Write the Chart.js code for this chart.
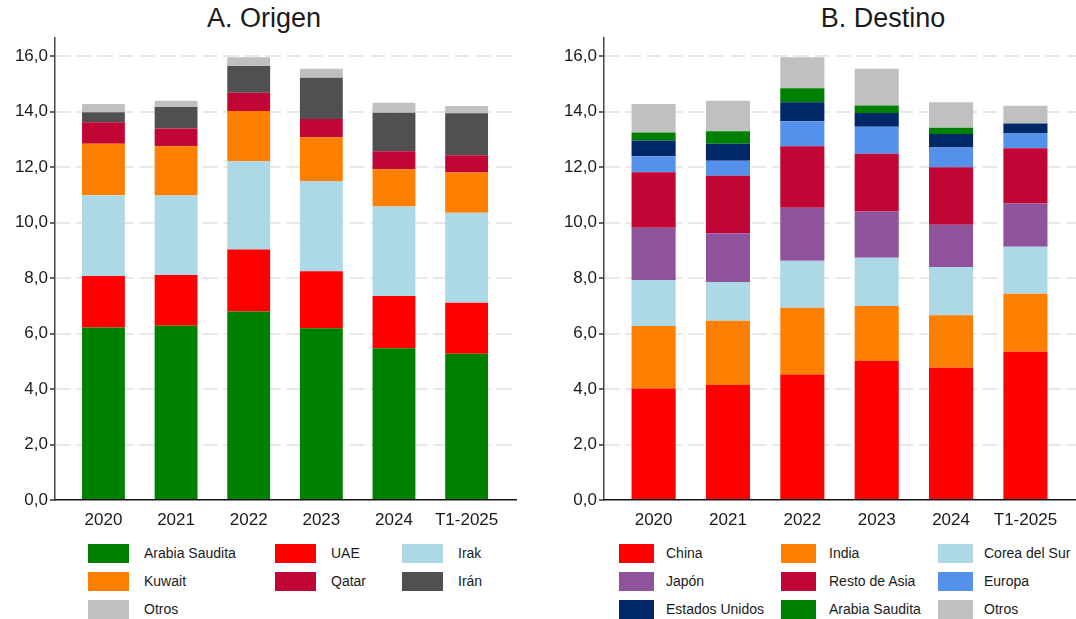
<!DOCTYPE html>
<html>
<head>
<meta charset="utf-8">
<script src="https://cdn.jsdelivr.net/npm/chart.js@4.4.1/dist/chart.umd.min.js"></script>
<style>
  html, body { margin: 0; padding: 0; background: #fff; width: 1076px; height: 619px; overflow: hidden; }
  body { position: relative; font-family: "Liberation Sans", Arial, sans-serif; color: #1a1a1a; }
  .panel { position: absolute; top: 0; width: 538px; height: 619px; }
  .panel canvas { position: absolute; left: 0; top: 0; }
  .title { position: absolute; top: 3px; font-size: 27px; white-space: nowrap; transform: translateX(-50%); }
  .lg-box { position: absolute; height: 19px; }
  .lg-txt { position: absolute; font-size: 14px; line-height: 19px; white-space: nowrap; }
</style>
</head>
<body>
<div class="panel" id="pL" style="left:0">
  <div class="title" style="left:264px">A. Origen</div>
  <canvas id="cL" width="538" height="540"></canvas>
</div>
<div class="panel" id="pR" style="left:538px">
  <div class="title" style="left:345px">B. Destino</div>
  <canvas id="cR" width="538" height="540"></canvas>
</div>
<script>
// ---- Data ----
const categories = ['2020', '2021', '2022', '2023', '2024', 'T1-2025'];

// A. Origen
const origArabiaSaudita = [6.22, 6.28, 6.79, 6.19, 5.47, 5.27];
const origUAE           = [1.85, 1.83, 2.24, 2.05, 1.88, 1.84];
const origIrak          = [2.91, 2.86, 3.19, 3.26, 3.23, 3.24];
const origKuwait        = [1.86, 1.78, 1.80, 1.57, 1.34, 1.45];
const origQatar         = [0.77, 0.64, 0.66, 0.66, 0.65, 0.62];
const origIran          = [0.36, 0.77, 0.96, 1.49, 1.39, 1.52];
const origOtros         = [0.30, 0.23, 0.32, 0.32, 0.36, 0.26];

// B. Destino
const destChina         = [4.02, 4.14, 4.52, 5.01, 4.77, 5.34];
const destIndia         = [2.25, 2.32, 2.41, 1.98, 1.89, 2.09];
const destCorea         = [1.66, 1.40, 1.69, 1.74, 1.73, 1.70];
const destJapon         = [1.88, 1.75, 1.91, 1.67, 1.53, 1.56];
const destRestoAsia     = [2.00, 2.08, 2.22, 2.08, 2.07, 1.99];
const destEuropa        = [0.58, 0.54, 0.90, 0.97, 0.71, 0.53];
const destEEUU          = [0.57, 0.61, 0.68, 0.50, 0.49, 0.36];
const destArabiaSaudita = [0.28, 0.45, 0.51, 0.27, 0.23, 0.00];
const destOtros         = [1.03, 1.10, 1.12, 1.32, 0.91, 0.64];

const yTickValues = [0, 2, 4, 6, 8, 10, 12, 14, 16];

// ---- Helpers ----
const FONT = '"Liberation Sans", Arial, sans-serif';
function toPoints(arr) { return arr.map((v, i) => ({ x: i, y: v })); }
function ds(label, arr, color) {
  return { label, data: toPoints(arr), backgroundColor: color, borderWidth: 0 };
}

function makeChart(canvasId, datasets, yAxisWidth, catPct, padRight) {
  return new Chart(document.getElementById(canvasId), {
    type: 'bar',
    data: { datasets },
    options: {
      responsive: false,
      animation: false,
      layout: { padding: { top: 38, right: padRight, left: 0, bottom: 0 } },
      datasets: { bar: { barPercentage: 1, categoryPercentage: catPct } },
      plugins: { legend: { display: false }, tooltip: { enabled: false }, title: { display: false } },
      scales: {
        x: {
          type: 'linear',
          stacked: true,
          offset: false,
          min: -0.667,
          max: 5.68,
          afterBuildTicks: (s) => { s.ticks = categories.map((c, i) => ({ value: i })); },
          afterFit: (s) => { s.height = 40; },
          ticks: {
            autoSkip: false, maxRotation: 0, padding: 10,
            font: { family: FONT, size: 17 }, color: '#1a1a1a',
            callback: (v) => categories[v]
          },
          grid: { display: false, drawTicks: false },
          border: { display: true, color: '#111', width: 1.5 }
        },
        y: {
          stacked: true,
          min: 0,
          max: 16.65,
          afterBuildTicks: (s) => { s.ticks = yTickValues.map(v => ({ value: v })); },
          afterFit: (s) => { s.width = yAxisWidth; },
          ticks: {
            padding: 2,
            font: { family: FONT, size: 17 }, color: '#1a1a1a',
            callback: (v) => v.toFixed(1).replace('.', ',')
          },
          grid: {
            color: (ctx) => ctx.tick && ctx.tick.value === 0 ? 'rgba(0,0,0,0)' : '#e8e8e8',
            lineWidth: 2,
            drawTicks: true,
            tickLength: 5,
            tickColor: '#333',
            tickWidth: 1.5,
            tickBorderDash: []
          },
          border: { display: true, color: '#444', width: 1.5, dash: [15, 6] }
        }
      }
    }
  });
}

function makeLegend(panelId, datasets, cols, boxW) {
  const panel = document.getElementById(panelId);
  datasets.forEach((d, i) => {
    const r = Math.floor(i / 3), c = i % 3;
    const top = 544 + r * 28;
    const box = document.createElement('div');
    box.className = 'lg-box';
    box.style.left = cols[c][0] + 'px';
    box.style.top = top + 'px';
    box.style.width = boxW + 'px';
    box.style.background = d.backgroundColor;
    panel.appendChild(box);
    const t = document.createElement('div');
    t.className = 'lg-txt';
    t.style.left = cols[c][1] + 'px';
    t.style.top = top + 'px';
    t.textContent = d.label;
    panel.appendChild(t);
  });
}

const dsL = [
  ds('Arabia Saudita', origArabiaSaudita, '#008000'),
  ds('UAE', origUAE, '#ff0000'),
  ds('Irak', origIrak, '#add8e6'),
  ds('Kuwait', origKuwait, '#ff8000'),
  ds('Qatar', origQatar, '#c10534'),
  ds('Irán', origIran, '#505050'),
  ds('Otros', origOtros, '#c0c0c0')
];
const dsR = [
  ds('China', destChina, '#ff0000'),
  ds('India', destIndia, '#ff8000'),
  ds('Corea del Sur', destCorea, '#add8e6'),
  ds('Japón', destJapon, '#8f539c'),
  ds('Resto de Asia', destRestoAsia, '#c10534'),
  ds('Europa', destEuropa, '#5591eb'),
  ds('Estados Unidos', destEEUU, '#002868'),
  ds('Arabia Saudita', destArabiaSaudita, '#008000'),
  ds('Otros', destOtros, '#c0c0c0')
];

makeChart('cL', dsL, 55, 0.59, 22);
makeChart('cR', dsR, 66, 0.593, 0);
makeLegend('pL', dsL, [[88, 144], [275, 331], [402, 458]], 41);
makeLegend('pR', dsR, [[81, 128], [243, 291], [400, 446]], 35);
</script>
</body>
</html>
